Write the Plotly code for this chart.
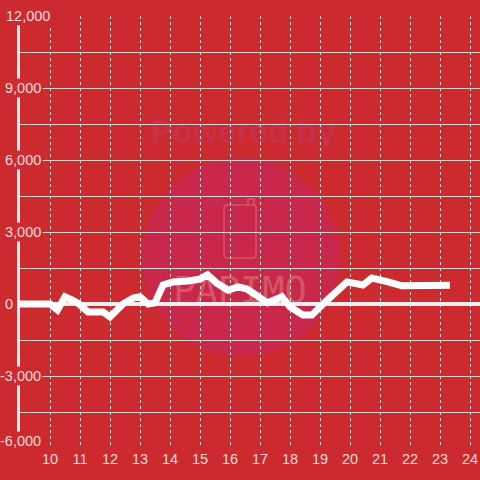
import base64
import plotly.graph_objects as go

# 時刻(時) と 差枚数
hours = [8.9, 10.0, 10.25, 10.5, 10.73, 10.93, 11.27, 11.77, 12.0, 12.25, 12.43,
         12.77, 13.0, 13.27, 13.5, 13.77, 14.1, 14.6, 15.0, 15.25, 15.55, 15.93,
         16.27, 16.57, 17.0, 17.25, 17.73, 18.0, 18.43, 18.73, 19.17, 19.9, 20.43,
         20.73, 21.27, 21.73, 23.33]
diff = [0, 0, -250, 300, 170, 40, -330, -330, -540, -250, 0,
        250, 300, 0, 50, 800, 920, 960, 1040, 1220, 880, 580,
        710, 620, 300, 50, 300, -120, -460, -460, 80, 920, 790,
        1080, 920, 760, 780]

x_ticks = list(range(10, 25))
y_ticks = [12000, 9000, 6000, 3000, 0, -3000, -6000]

BG = "#cd2a2f"
TXT = "#f3dcdc"
GRID = "#d6d2d2"
FONT = "Liberation Sans, Arial"

# 透かし (背景画像)
svg = """<svg xmlns='http://www.w3.org/2000/svg' width='480' height='480' viewBox='0 0 480 480'>
<circle cx='241' cy='257' r='99' fill='#c9284a'/>
<text x='243' y='143' text-anchor='middle' font-family='Liberation Sans, Arial' font-weight='bold'
 font-size='33' fill='#c93049'>Powered by</text>
<rect x='224' y='205' width='32' height='53' rx='3' fill='none' stroke='#d65666' stroke-width='1.5'/>
<path d='M248 205 L248 199 L254 199 L254 205' fill='none' stroke='#d65666' stroke-width='1.5'/>
<text x='240' y='303' text-anchor='middle' font-family='DejaVu Sans Mono, monospace'
 font-size='37' fill='#d65666'>PAPIMO</text>
</svg>"""
svg_uri = "data:image/svg+xml;base64," + base64.b64encode(svg.encode()).decode()

fig = go.Figure()
fig.add_trace(go.Scatter(x=hours, y=diff, mode="lines",
                         line=dict(color="white", width=7), hoverinfo="skip",
                         showlegend=False))

# y軸ラベル: 背景色付きで軸線・グリッドの上に重ねる (右端px, 縦ずれpx)
label_pos = {12000: (52, 0), 9000: (43, 0), 6000: (43, 0), 3000: (43, 0),
             0: (15, 0), -3000: (43, 0), -6000: (43, 7)}
for v in y_ticks:
    right, up = label_pos[v]
    fig.add_annotation(x=right / 480, xref="paper", xanchor="right", y=v, yref="y",
                       yshift=up, text=f"{v:,}", showarrow=False, bgcolor=BG,
                       borderpad=1, font=dict(size=14.5, color=TXT, family=FONT))

fig.update_layout(
    width=480, height=480,
    margin=dict(l=0, r=0, t=0, b=0),
    paper_bgcolor=BG, plot_bgcolor=BG,
    images=[dict(source=svg_uri, xref="paper", yref="paper", x=0, y=1,
                 sizex=1, sizey=1, xanchor="left", yanchor="top",
                 sizing="stretch", layer="below")],
    xaxis=dict(domain=[20 / 480, 1], range=[9.0, 9.0 + 460 / 30],
               tickvals=x_ticks, showgrid=True, gridcolor=GRID, gridwidth=1,
               griddash="3px,3px", zeroline=False, showline=False, automargin=False,
               ticks="", tickfont=dict(size=14.5, color=TXT, family=FONT)),
    yaxis=dict(domain=[32 / 480, 464 / 480], range=[-6000, 12000],
               tickvals=[-6000 + 1500 * i for i in range(13)], showticklabels=False,
               showgrid=True, gridcolor=GRID, gridwidth=1, automargin=False,
               zeroline=True, zerolinecolor="#f4eeee", zerolinewidth=4,
               showline=True, linecolor="#f4eeee", linewidth=3, ticks=""),
)

fig.write_html("out.html", config={"displayModeBar": False},
               post_script="document.body.style.margin='0';")
